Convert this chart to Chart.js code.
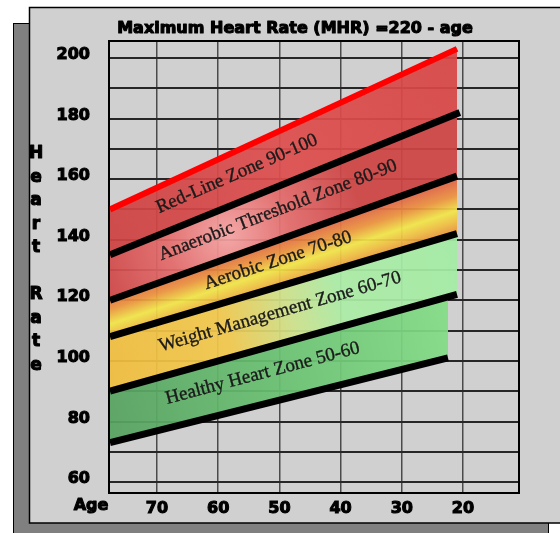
<!DOCTYPE html>
<html>
<head>
<meta charset="utf-8">
<title>Maximum Heart Rate</title>
<script src="https://cdn.jsdelivr.net/npm/chart.js@4/dist/chart.umd.min.js"></script>
<style>
  html, body { margin: 0; padding: 0; background: #ffffff; }
  canvas { display: block; }
</style>
</head>
<body>
<canvas id="hr" width="560" height="533"></canvas>
<script>
// Age axis labels and heart-rate grid
const ageTicks = [70, 60, 50, 40, 30, 20];
const rateGrid = [60, 70, 80, 90, 100, 110, 120, 130, 140, 150, 160, 170, 180, 190, 200];
const rateLabels = [60, 80, 100, 120, 140, 160, 180, 200];

// Zone boundary lines (% of MHR), each running from age 70 to about age 20
const zonePercents = [100, 90, 80, 70, 60, 50];
const startAge = 70;
const endAges = [20, 19.6, 20, 20, 20, 21.3];
const startRates = [150, 135, 120, 108, 90, 73];
const endRates = [203, 182, 161, 142, 122, 101];

// Training zones between consecutive boundary lines
const zoneNames = [
  'Red-Line Zone 90-100',
  'Anaerobic Threshold Zone 80-90',
  'Aerobic Zone 70-80',
  'Weight Management Zone 60-70',
  'Healthy Heart Zone 50-60'
];
const zoneLabelAges = [51.7, 45.8, 45.8, 45.5, 48];

const TITLE = 'Maximum Heart Rate (MHR) =220 - age';
const HEAVY = '"DejaVu Sans", "Liberation Sans", Arial, sans-serif';
const SERIF = '"Liberation Serif", "DejaVu Serif", "Times New Roman", serif';

// rate on boundary line i at a given age
function rateOn(i, age) {
  return startRates[i] + (endRates[i] - startRates[i]) * (startAge - age) / (startAge - endAges[i]);
}
function px(chart, i, age) {
  return { x: chart.scales.xz.getPixelForValue(age), y: chart.scales.y.getPixelForValue(rateOn(i, age)) };
}

// Gradient fills for each zone
function zoneFill(z) {
  const fallback = ['#d24b4b', '#d85858', '#eeb846', '#d8dc80', '#6cc474'][z];
  return (ctx) => {
    const chart = ctx.chart;
    if (!chart.chartArea || !chart.scales.xz || !chart.scales.y) return fallback;
    const c = chart.ctx;
    const a0 = px(chart, z, startAge), a1 = px(chart, z, 20);
    const b0 = px(chart, z + 1, startAge), b1 = px(chart, z + 1, 20);
    const l0 = { x: (a0.x + b0.x) / 2, y: (a0.y + b0.y) / 2 };
    const l1 = { x: (a1.x + b1.x) / 2, y: (a1.y + b1.y) / 2 };
    let g;
    if (z === 0) {
      g = c.createLinearGradient(l0.x, l0.y, l1.x, l1.y);
      g.addColorStop(0, 'rgba(206,66,66,0.93)');
      g.addColorStop(0.5, 'rgba(222,78,78,0.93)');
      g.addColorStop(1, 'rgba(216,70,70,0.93)');
    } else if (z === 1) {
      const top = px(chart, z, 53), bot = px(chart, z + 1, 53);
      const cx = (top.x + bot.x) / 2, cy = top.y + (bot.y - top.y) * 0.55;
      g = c.createRadialGradient(cx, cy, 0, cx, cy, 135);
      g.addColorStop(0, 'rgba(246,164,164,0.93)');
      g.addColorStop(0.45, 'rgba(228,108,108,0.93)');
      g.addColorStop(1, 'rgba(206,68,68,0.93)');
    } else if (z === 2) {
      const m = (l1.y - l0.y) / (l1.x - l0.x);
      const t = px(chart, z, 45), b = px(chart, z + 1, 45);
      const n = Math.sqrt(1 + m * m);
      const d = (b.y - t.y) / n;
      g = c.createLinearGradient(t.x, t.y, t.x + d * (-m) / n, t.y + d / n);
      g.addColorStop(0, 'rgba(226,106,70,0.93)');
      g.addColorStop(0.3, 'rgba(236,148,62,0.93)');
      g.addColorStop(0.62, 'rgba(242,230,72,0.93)');
      g.addColorStop(0.85, 'rgba(240,190,66,0.93)');
      g.addColorStop(1, 'rgba(236,160,62,0.93)');
    } else if (z === 3) {
      g = c.createLinearGradient(l0.x, l0.y, l1.x, l1.y);
      g.addColorStop(0, 'rgba(240,190,62,0.93)');
      g.addColorStop(0.33, 'rgba(242,200,76,0.93)');
      g.addColorStop(0.52, 'rgba(206,226,140,0.93)');
      g.addColorStop(0.66, 'rgba(172,236,166,0.93)');
      g.addColorStop(1, 'rgba(164,236,164,0.93)');
    } else {
      g = c.createLinearGradient(l0.x, l0.y, l1.x, l1.y);
      g.addColorStop(0, 'rgba(86,162,96,0.93)');
      g.addColorStop(0.5, 'rgba(106,194,114,0.93)');
      g.addColorStop(1, 'rgba(132,222,134,0.93)');
    }
    return g;
  };
}

const datasets = zonePercents.map((pct, i) => ({
  label: pct + '% MHR',
  data: [{ x: startAge, y: startRates[i] }, { x: endAges[i], y: endRates[i] }],
  xAxisID: 'xz',
  yAxisID: 'y',
  borderColor: i === 0 ? '#ff0000' : '#000000',
  borderWidth: i === 0 ? 6 : 7,
  pointRadius: 0,
  tension: 0,
  fill: i === 0 ? false : '-1',
  backgroundColor: i === 0 ? 'rgba(0,0,0,0)' : zoneFill(i - 1)
}));

// Page frame: drop shadow and grey panel
const framePlugin = {
  id: 'frame',
  beforeDraw(chart) {
    const c = chart.ctx;
    c.save();
    c.fillStyle = '#ffffff';
    c.fillRect(0, 0, chart.width, chart.height);
    c.fillStyle = '#808080';
    c.fillRect(13.5, 23.5, 535, 520);
    c.strokeStyle = '#000';
    c.lineWidth = 1;
    c.strokeRect(13.5, 23.5, 535, 520);
    c.fillStyle = '#d0d0d0';
    c.fillRect(29.5, 7.5, 540, 515.5);
    c.lineWidth = 1.5;
    c.strokeRect(29.5, 7.5, 540, 515.5);
    c.restore();
  }
};

function heavyText(c, s, x, y) {
  c.strokeText(s, x, y);
  c.fillText(s, x, y);
}

// Zone names, plot border, title and axis captions
const textPlugin = {
  id: 'texts',
  afterDatasetsDraw(chart) {
    const c = chart.ctx;
    const a = chart.chartArea;
    c.save();
    c.font = '19px ' + SERIF;
    c.fillStyle = '#1a1a1a';
    c.strokeStyle = '#1a1a1a';
    c.lineWidth = 0.35;
    c.textAlign = 'center';
    c.textBaseline = 'middle';
    zoneNames.forEach((name, z) => {
      const age = zoneLabelAges[z];
      const t = px(chart, z, age), b = px(chart, z + 1, age);
      const t0 = px(chart, z, age + 5), b0 = px(chart, z + 1, age + 5);
      const t1 = px(chart, z, age - 5), b1 = px(chart, z + 1, age - 5);
      const ang = Math.atan2((t1.y + b1.y) / 2 - (t0.y + b0.y) / 2, (t1.x + b1.x) / 2 - (t0.x + b0.x) / 2);
      c.save();
      c.translate((t.x + b.x) / 2, (t.y + b.y) / 2 - 3);
      c.rotate(ang);
      heavyText(c, name, 0, 0);
      c.restore();
    });
    c.strokeStyle = '#000';
    c.lineWidth = 2;
    c.strokeRect(a.left, a.top, a.right - a.left, a.bottom - a.top);
    c.restore();
  },
  afterDraw(chart) {
    const c = chart.ctx;
    c.save();
    c.fillStyle = '#000';
    c.strokeStyle = '#000';
    c.lineWidth = 1.1;
    c.lineJoin = 'round';
    c.textAlign = 'center';
    c.textBaseline = 'middle';
    c.font = 'bold 16px ' + HEAVY;
    heavyText(c, TITLE, 295, 29);
    c.font = 'bold 16px ' + HEAVY;
    heavyText(c, 'Age', 91, 506);
    const letters = ['H', 'e', 'a', 'r', 't', '', 'R', 'a', 't', 'e'];
    c.font = 'bold 17px ' + HEAVY;
    letters.forEach((ch, k) => { if (ch) heavyText(c, ch, 36, 154 + k * 23.5); });
    c.restore();
  }
};

const tickFont = { family: HEAVY, weight: 'bold', size: 16 };

new Chart(document.getElementById('hr'), {
  type: 'line',
  data: { datasets },
  options: {
    responsive: false,
    animation: false,
    devicePixelRatio: 1,
    layout: { padding: { top: 41, right: 41, bottom: 0, left: 0 } },
    plugins: {
      legend: { display: false },
      tooltip: { enabled: false },
      filler: { propagate: false, drawTime: 'beforeDatasetsDraw' }
    },
    scales: {
      x: {
        type: 'linear',
        position: 'bottom',
        reverse: true,
        min: 10.85,
        max: 77.84,
        afterBuildTicks: (s) => { s.ticks = ageTicks.map(v => ({ value: v })); },
        afterFit: (s) => { s.height = 40; },
        border: { display: false },
        grid: { color: '#4a4a4a', lineWidth: 1.5, drawTicks: false },
        ticks: {
          autoSkip: false,
          maxRotation: 0,
          padding: 6,
          color: '#000',
          textStrokeColor: '#000',
          textStrokeWidth: 1.1,
          font: tickFont,
          callback: (v) => String(v)
        }
      },
      xz: {
        type: 'linear',
        display: false,
        reverse: true,
        min: 11.07,
        max: 70.14
      },
      y: {
        type: 'linear',
        position: 'left',
        min: 56.4,
        max: 205.6,
        afterBuildTicks: (s) => { s.ticks = rateGrid.map(v => ({ value: v })); },
        afterFit: (s) => { s.width = 109; },
        border: { display: false },
        grid: { color: '#262626', lineWidth: 2, drawTicks: false },
        ticks: {
          autoSkip: false,
          padding: 19,
          labelOffset: -3,
          color: '#000',
          textStrokeColor: '#000',
          textStrokeWidth: 1.1,
          font: tickFont,
          callback: (v) => rateLabels.includes(v) ? String(v) : ''
        }
      }
    }
  },
  plugins: [framePlugin, textPlugin]
});
</script>
</body>
</html>
